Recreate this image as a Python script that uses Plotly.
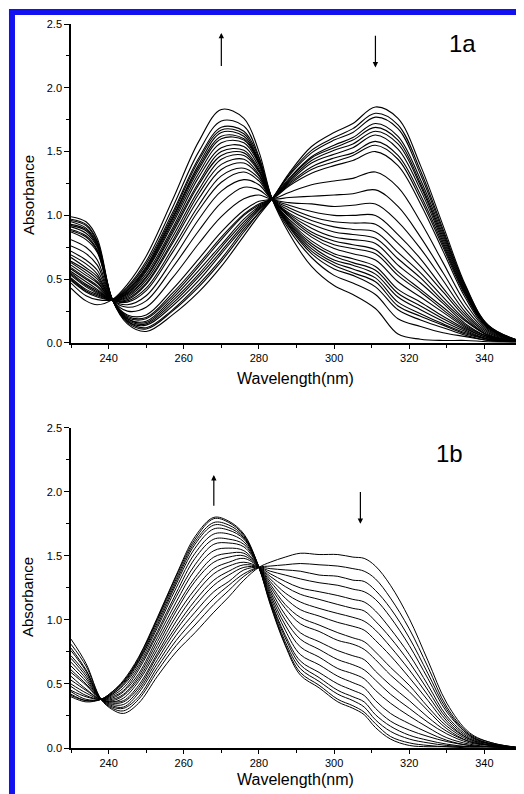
import plotly.graph_objects as go

# ---------------- Panel 1a ----------------
W1 = [230, 234, 237, 241, 245, 250, 257, 264, 270, 276, 280, 283.5, 288, 294, 300, 305, 311, 317, 323, 329, 335, 341, 350]

a00 = [0.99, 0.95, 0.82, 0.34, 0.15, 0.09, 0.22, 0.40, 0.60, 0.84, 1.00, 1.13, 1.33, 1.54, 1.65, 1.72, 1.85, 1.76, 1.39, 0.92, 0.45, 0.14, 0.01]
a01 = [0.97, 0.93, 0.80, 0.34, 0.16, 0.11, 0.25, 0.44, 0.64, 0.87, 1.02, 1.13, 1.32, 1.51, 1.61, 1.68, 1.80, 1.71, 1.35, 0.89, 0.44, 0.14, 0.01]
a02 = [0.96, 0.92, 0.79, 0.34, 0.17, 0.12, 0.26, 0.46, 0.66, 0.89, 1.02, 1.13, 1.31, 1.49, 1.59, 1.65, 1.77, 1.68, 1.32, 0.87, 0.43, 0.13, 0.01]
a03 = [0.95, 0.90, 0.78, 0.34, 0.17, 0.14, 0.29, 0.49, 0.70, 0.91, 1.04, 1.13, 1.29, 1.46, 1.55, 1.61, 1.72, 1.62, 1.28, 0.85, 0.42, 0.13, 0.01]
a04 = [0.93, 0.89, 0.77, 0.34, 0.18, 0.15, 0.31, 0.52, 0.72, 0.93, 1.05, 1.13, 1.28, 1.45, 1.53, 1.59, 1.69, 1.59, 1.25, 0.83, 0.41, 0.13, 0.01]
a05 = [0.92, 0.88, 0.76, 0.34, 0.19, 0.16, 0.33, 0.54, 0.75, 0.95, 1.06, 1.13, 1.27, 1.43, 1.51, 1.56, 1.66, 1.56, 1.23, 0.81, 0.40, 0.12, 0.01]
a06 = [0.91, 0.86, 0.75, 0.34, 0.19, 0.17, 0.35, 0.57, 0.77, 0.97, 1.07, 1.13, 1.26, 1.41, 1.48, 1.53, 1.63, 1.52, 1.20, 0.79, 0.39, 0.12, 0.01]
a07 = [0.89, 0.84, 0.73, 0.34, 0.20, 0.19, 0.37, 0.60, 0.81, 1.00, 1.08, 1.13, 1.25, 1.38, 1.45, 1.49, 1.58, 1.47, 1.16, 0.77, 0.38, 0.12, 0.01]
a08 = [0.88, 0.83, 0.72, 0.34, 0.21, 0.20, 0.39, 0.62, 0.83, 1.01, 1.09, 1.13, 1.24, 1.36, 1.42, 1.47, 1.55, 1.44, 1.13, 0.75, 0.37, 0.12, 0.01]
a09 = [0.87, 0.81, 0.71, 0.34, 0.22, 0.22, 0.42, 0.66, 0.87, 1.04, 1.11, 1.13, 1.23, 1.33, 1.39, 1.43, 1.50, 1.39, 1.09, 0.72, 0.35, 0.11, 0.01]
a10 = [0.81, 0.75, 0.65, 0.34, 0.25, 0.28, 0.51, 0.78, 0.99, 1.13, 1.16, 1.13, 1.18, 1.24, 1.27, 1.29, 1.34, 1.22, 0.95, 0.63, 0.31, 0.10, 0.01]
a11 = [0.76, 0.70, 0.61, 0.34, 0.28, 0.33, 0.59, 0.88, 1.10, 1.22, 1.20, 1.13, 1.14, 1.15, 1.16, 1.17, 1.20, 1.07, 0.83, 0.55, 0.27, 0.09, 0.01]
a12 = [0.72, 0.65, 0.57, 0.34, 0.30, 0.37, 0.65, 0.97, 1.19, 1.28, 1.24, 1.13, 1.10, 1.09, 1.07, 1.08, 1.09, 0.95, 0.74, 0.49, 0.24, 0.08, 0.01]
a13 = [0.69, 0.62, 0.54, 0.34, 0.32, 0.41, 0.71, 1.04, 1.26, 1.34, 1.27, 1.13, 1.08, 1.03, 1.00, 1.00, 1.00, 0.85, 0.66, 0.43, 0.22, 0.07, 0.01]
a14 = [0.67, 0.59, 0.52, 0.34, 0.33, 0.43, 0.74, 1.08, 1.31, 1.37, 1.29, 1.13, 1.06, 0.99, 0.95, 0.94, 0.93, 0.78, 0.60, 0.40, 0.20, 0.06, 0.01]
a15 = [0.64, 0.57, 0.50, 0.34, 0.34, 0.46, 0.78, 1.13, 1.36, 1.41, 1.31, 1.13, 1.04, 0.96, 0.91, 0.89, 0.87, 0.71, 0.55, 0.36, 0.18, 0.06, 0.01]
a16 = [0.63, 0.55, 0.48, 0.34, 0.35, 0.47, 0.80, 1.17, 1.40, 1.44, 1.32, 1.13, 1.02, 0.93, 0.87, 0.85, 0.82, 0.66, 0.51, 0.33, 0.17, 0.06, 0.01]
a17 = [0.61, 0.53, 0.47, 0.34, 0.36, 0.49, 0.83, 1.20, 1.44, 1.47, 1.34, 1.13, 1.01, 0.90, 0.83, 0.81, 0.78, 0.61, 0.47, 0.31, 0.15, 0.05, 0.01]
a18 = [0.59, 0.51, 0.45, 0.34, 0.37, 0.51, 0.86, 1.24, 1.47, 1.49, 1.35, 1.13, 1.00, 0.87, 0.80, 0.77, 0.73, 0.56, 0.42, 0.28, 0.14, 0.05, 0.01]
a19 = [0.58, 0.50, 0.44, 0.34, 0.38, 0.52, 0.88, 1.26, 1.50, 1.51, 1.36, 1.13, 0.99, 0.85, 0.77, 0.74, 0.70, 0.53, 0.40, 0.26, 0.13, 0.05, 0.01]
a20 = [0.56, 0.48, 0.42, 0.34, 0.39, 0.54, 0.90, 1.30, 1.53, 1.54, 1.38, 1.13, 0.97, 0.83, 0.74, 0.70, 0.65, 0.48, 0.36, 0.24, 0.12, 0.04, 0.01]
a21 = [0.55, 0.46, 0.41, 0.34, 0.39, 0.56, 0.93, 1.33, 1.57, 1.57, 1.40, 1.13, 0.96, 0.80, 0.70, 0.66, 0.60, 0.42, 0.32, 0.21, 0.11, 0.04, 0.01]
a22 = [0.54, 0.45, 0.40, 0.34, 0.40, 0.57, 0.95, 1.36, 1.60, 1.59, 1.41, 1.13, 0.95, 0.78, 0.68, 0.63, 0.57, 0.39, 0.29, 0.19, 0.10, 0.03, 0.01]
a23 = [0.53, 0.44, 0.39, 0.34, 0.41, 0.58, 0.97, 1.38, 1.62, 1.60, 1.42, 1.13, 0.94, 0.76, 0.65, 0.61, 0.54, 0.36, 0.26, 0.17, 0.09, 0.03, 0.01]
a24 = [0.51, 0.42, 0.38, 0.34, 0.41, 0.59, 0.98, 1.40, 1.65, 1.62, 1.42, 1.13, 0.93, 0.74, 0.63, 0.58, 0.51, 0.32, 0.23, 0.15, 0.08, 0.03, 0.01]
a25 = [0.50, 0.41, 0.37, 0.34, 0.42, 0.60, 1.00, 1.43, 1.67, 1.64, 1.43, 1.13, 0.92, 0.72, 0.61, 0.55, 0.48, 0.29, 0.21, 0.14, 0.07, 0.03, 0.01]
a26 = [0.49, 0.40, 0.36, 0.34, 0.43, 0.62, 1.02, 1.45, 1.69, 1.66, 1.45, 1.13, 0.91, 0.70, 0.58, 0.53, 0.44, 0.26, 0.18, 0.12, 0.06, 0.02, 0.01]
a27 = [0.47, 0.37, 0.34, 0.34, 0.44, 0.64, 1.06, 1.50, 1.74, 1.70, 1.46, 1.13, 0.89, 0.67, 0.53, 0.47, 0.38, 0.19, 0.13, 0.08, 0.05, 0.02, 0.01]
a28 = [0.43, 0.33, 0.30, 0.34, 0.46, 0.68, 1.12, 1.58, 1.83, 1.76, 1.50, 1.13, 0.86, 0.60, 0.45, 0.38, 0.27, 0.07, 0.03, 0.02, 0.02, 0.01, 0.01]

# ---------------- Panel 1b ----------------
W2 = [230, 234, 238, 241, 244, 248, 253, 258, 263, 268, 272, 276, 280, 283, 287, 291, 296, 301, 305, 308, 311, 315, 320, 325, 330, 336, 342, 350]

b00 = [0.85, 0.66, 0.38, 0.30, 0.27, 0.35, 0.56, 0.75, 0.90, 1.06, 1.18, 1.31, 1.41, 1.45, 1.49, 1.52, 1.51, 1.51, 1.49, 1.48, 1.42, 1.27, 1.01, 0.68, 0.35, 0.12, 0.04, 0.00]
b01 = [0.81, 0.64, 0.38, 0.31, 0.29, 0.38, 0.60, 0.80, 0.96, 1.12, 1.23, 1.34, 1.41, 1.42, 1.43, 1.44, 1.43, 1.42, 1.40, 1.38, 1.32, 1.17, 0.93, 0.63, 0.32, 0.11, 0.04, 0.00]
b02 = [0.78, 0.61, 0.38, 0.32, 0.31, 0.40, 0.63, 0.84, 1.01, 1.17, 1.27, 1.36, 1.41, 1.40, 1.39, 1.38, 1.35, 1.34, 1.31, 1.30, 1.23, 1.09, 0.86, 0.58, 0.30, 0.10, 0.03, 0.00]
b03 = [0.76, 0.60, 0.38, 0.33, 0.32, 0.43, 0.66, 0.88, 1.06, 1.22, 1.30, 1.39, 1.41, 1.38, 1.35, 1.32, 1.29, 1.27, 1.24, 1.22, 1.16, 1.02, 0.80, 0.54, 0.28, 0.10, 0.03, 0.00]
b04 = [0.72, 0.58, 0.38, 0.34, 0.34, 0.45, 0.69, 0.92, 1.11, 1.27, 1.35, 1.41, 1.41, 1.36, 1.30, 1.25, 1.22, 1.19, 1.16, 1.14, 1.07, 0.93, 0.73, 0.49, 0.25, 0.09, 0.03, 0.00]
b05 = [0.70, 0.56, 0.38, 0.35, 0.36, 0.47, 0.72, 0.95, 1.15, 1.31, 1.38, 1.43, 1.41, 1.34, 1.26, 1.20, 1.16, 1.12, 1.09, 1.07, 0.99, 0.86, 0.67, 0.45, 0.23, 0.08, 0.03, 0.00]
b06 = [0.67, 0.54, 0.38, 0.36, 0.37, 0.49, 0.74, 0.99, 1.20, 1.36, 1.42, 1.45, 1.41, 1.32, 1.21, 1.14, 1.09, 1.05, 1.02, 0.99, 0.92, 0.79, 0.61, 0.41, 0.21, 0.07, 0.03, 0.00]
b07 = [0.64, 0.52, 0.38, 0.36, 0.39, 0.52, 0.77, 1.03, 1.24, 1.40, 1.45, 1.48, 1.41, 1.30, 1.17, 1.08, 1.03, 0.98, 0.95, 0.92, 0.84, 0.72, 0.55, 0.37, 0.19, 0.07, 0.02, 0.00]
b08 = [0.61, 0.50, 0.38, 0.37, 0.41, 0.54, 0.80, 1.07, 1.30, 1.45, 1.49, 1.50, 1.41, 1.28, 1.12, 1.02, 0.96, 0.90, 0.86, 0.83, 0.75, 0.63, 0.49, 0.32, 0.17, 0.06, 0.02, 0.00]
b09 = [0.59, 0.49, 0.38, 0.38, 0.42, 0.56, 0.83, 1.10, 1.33, 1.49, 1.52, 1.52, 1.41, 1.26, 1.09, 0.97, 0.91, 0.84, 0.81, 0.77, 0.69, 0.57, 0.44, 0.29, 0.15, 0.05, 0.02, 0.00]
b10 = [0.56, 0.46, 0.38, 0.39, 0.44, 0.58, 0.86, 1.14, 1.39, 1.54, 1.56, 1.54, 1.41, 1.24, 1.04, 0.90, 0.83, 0.76, 0.72, 0.69, 0.60, 0.49, 0.37, 0.24, 0.13, 0.05, 0.02, 0.00]
b11 = [0.53, 0.45, 0.38, 0.40, 0.45, 0.61, 0.89, 1.18, 1.43, 1.59, 1.60, 1.57, 1.41, 1.22, 1.00, 0.85, 0.77, 0.69, 0.65, 0.61, 0.53, 0.42, 0.31, 0.20, 0.11, 0.04, 0.02, 0.00]
b12 = [0.50, 0.43, 0.38, 0.41, 0.47, 0.63, 0.91, 1.21, 1.48, 1.63, 1.63, 1.59, 1.41, 1.20, 0.96, 0.79, 0.71, 0.62, 0.58, 0.54, 0.45, 0.35, 0.25, 0.16, 0.08, 0.03, 0.01, 0.00]
b13 = [0.48, 0.41, 0.38, 0.42, 0.49, 0.65, 0.94, 1.25, 1.52, 1.67, 1.67, 1.61, 1.41, 1.18, 0.92, 0.73, 0.65, 0.56, 0.51, 0.47, 0.37, 0.27, 0.19, 0.12, 0.06, 0.02, 0.01, 0.00]
b14 = [0.45, 0.40, 0.38, 0.42, 0.50, 0.67, 0.96, 1.28, 1.56, 1.71, 1.70, 1.63, 1.41, 1.16, 0.88, 0.68, 0.59, 0.50, 0.45, 0.41, 0.31, 0.21, 0.14, 0.09, 0.05, 0.02, 0.01, 0.00]
b15 = [0.44, 0.38, 0.38, 0.43, 0.51, 0.68, 0.98, 1.30, 1.59, 1.74, 1.72, 1.64, 1.41, 1.15, 0.86, 0.65, 0.55, 0.45, 0.40, 0.36, 0.26, 0.17, 0.10, 0.06, 0.03, 0.01, 0.01, 0.00]
b16 = [0.42, 0.37, 0.38, 0.43, 0.52, 0.69, 1.00, 1.32, 1.61, 1.76, 1.74, 1.65, 1.41, 1.14, 0.83, 0.62, 0.52, 0.42, 0.37, 0.32, 0.22, 0.13, 0.07, 0.04, 0.02, 0.01, 0.01, 0.00]
b17 = [0.41, 0.37, 0.38, 0.44, 0.52, 0.70, 1.01, 1.34, 1.63, 1.79, 1.76, 1.66, 1.41, 1.13, 0.81, 0.59, 0.49, 0.38, 0.33, 0.28, 0.19, 0.09, 0.04, 0.02, 0.01, 0.01, 0.01, 0.00]
b18 = [0.40, 0.36, 0.38, 0.44, 0.53, 0.71, 1.02, 1.35, 1.65, 1.80, 1.77, 1.67, 1.41, 1.12, 0.80, 0.57, 0.47, 0.36, 0.31, 0.26, 0.16, 0.07, 0.02, 0.01, 0.01, 0.00, 0.00, 0.00]

Y_TICKS = [0.0, 0.5, 1.0, 1.5, 2.0, 2.5]
Y_LABELS = ["0.0", "0.5", "1.0", "1.5", "2.0", "2.5"]
X_TICKS = [240, 260, 280, 300, 320, 340]
X_LABELS = ["240", "260", "280", "300", "320", "340"]

CURVES_A = [a00, a01, a02, a03, a04, a05, a06, a07, a08, a09, a10, a11, a12, a13, a14,
            a15, a16, a17, a18, a19, a20, a21, a22, a23, a24, a25, a26, a27, a28]
CURVES_B = [b00, b01, b02, b03, b04, b05, b06, b07, b08, b09, b10, b11, b12, b13, b14,
            b15, b16, b17, b18]

FONT = "Arial, Liberation Sans, sans-serif"

fig = go.Figure()
for c in CURVES_A:
    fig.add_trace(go.Scatter(x=W1, y=c, mode="lines", xaxis="x", yaxis="y",
                             line=dict(color="black", width=1.1, shape="spline", smoothing=1.0),
                             showlegend=False, hoverinfo="skip"))
for c in CURVES_B:
    fig.add_trace(go.Scatter(x=W2, y=c, mode="lines", xaxis="x2", yaxis="y2",
                             line=dict(color="black", width=1.0, shape="spline", smoothing=1.0),
                             showlegend=False, hoverinfo="skip"))

def xax(anchor):
    return dict(domain=[0, 1], range=[230, 350], anchor=anchor, showline=True, linecolor="black",
                linewidth=1.5, ticks="outside", ticklen=4, tickwidth=1.2, tickcolor="black",
                tickvals=X_TICKS, ticktext=X_LABELS, tickfont=dict(family=FONT, size=11, color="black"),
                showgrid=False, zeroline=False,
                minor=dict(dtick=10, tick0=230, ticks="outside", ticklen=3, tickcolor="black", tickwidth=1))

def yax(anchor, dom):
    return dict(domain=dom, range=[0, 2.5], anchor=anchor, showline=True, linecolor="black",
                linewidth=1.5, ticks="outside", ticklen=5, tickwidth=1.2, tickcolor="black",
                tickvals=Y_TICKS, ticktext=Y_LABELS, tickfont=dict(family=FONT, size=11, color="black"),
                showgrid=False, zeroline=False,
                minor=dict(dtick=0.25, tick0=0, ticks="outside", ticklen=3, tickcolor="black", tickwidth=1))

BLUE = "rgb(18,18,240)"
TITLE_FONT_Y = dict(family=FONT, size=15, color="black")
TITLE_FONT_X = dict(family=FONT, size=16, color="black")
# the page adds an 8 px body margin, so the figure is 8 px smaller than the window
fig.update_layout(
    width=516, height=786,
    margin=dict(l=63, r=2, t=16, b=46),
    paper_bgcolor="white", plot_bgcolor="white",
    xaxis=xax("y"), yaxis=yax("x", [0.5594, 1.0]),
    xaxis2=xax("y2"), yaxis2=yax("x2", [0.0, 0.4424]),
    showlegend=False,
    shapes=[
        dict(type="rect", xref="paper", yref="paper", x0=-0.1375, x1=-0.1242, y0=-0.07, y1=1.0207,
             fillcolor=BLUE, line=dict(width=0), layer="above"),
        dict(type="rect", xref="paper", yref="paper", x0=-0.1375, x1=1.01, y0=1.0124, y1=1.0207,
             fillcolor=BLUE, line=dict(width=0), layer="above"),
    ],
    annotations=[
        # arrows
        dict(x=270, y=2.43, ax=270, ay=2.16, xref="x", yref="y", axref="x", ayref="y",
             showarrow=True, arrowhead=2, arrowsize=0.9, arrowwidth=1.2, arrowcolor="black", text=""),
        dict(x=311, y=2.16, ax=311, ay=2.42, xref="x", yref="y", axref="x", ayref="y",
             showarrow=True, arrowhead=2, arrowsize=0.9, arrowwidth=1.2, arrowcolor="black", text=""),
        dict(x=268, y=2.13, ax=268, ay=1.88, xref="x2", yref="y2", axref="x2", ayref="y2",
             showarrow=True, arrowhead=2, arrowsize=0.9, arrowwidth=1.2, arrowcolor="black", text=""),
        dict(x=307, y=1.75, ax=307, ay=2.01, xref="x2", yref="y2", axref="x2", ayref="y2",
             showarrow=True, arrowhead=2, arrowsize=0.9, arrowwidth=1.2, arrowcolor="black", text=""),
        # panel labels
        dict(x=334.3, y=2.35, xref="x", yref="y", text="1a", showarrow=False,
             xanchor="center", yanchor="middle", font=dict(family=FONT, size=24, color="black")),
        dict(x=330.8, y=2.30, xref="x2", yref="y2", text="1b", showarrow=False,
             xanchor="center", yanchor="middle", font=dict(family=FONT, size=24, color="black")),
        # axis titles
        dict(x=-0.0953, y=0.7638, xref="paper", yref="paper", text="Absorbance", textangle=-90,
             xanchor="center", yanchor="middle", showarrow=False, font=TITLE_FONT_Y),
        dict(x=-0.0953, y=0.2086, xref="paper", yref="paper", text="Absorbance", textangle=-90,
             xanchor="center", yanchor="middle", showarrow=False, font=TITLE_FONT_Y),
        dict(x=0.4967, y=0.511, xref="paper", yref="paper", text="Wavelength(nm)",
             xanchor="center", yanchor="middle", showarrow=False, font=TITLE_FONT_X),
        dict(x=0.4967, y=-0.044, xref="paper", yref="paper", text="Wavelength(nm)",
             xanchor="center", yanchor="middle", showarrow=False, font=TITLE_FONT_X),
    ],
)

fig.write_html("out.html")
